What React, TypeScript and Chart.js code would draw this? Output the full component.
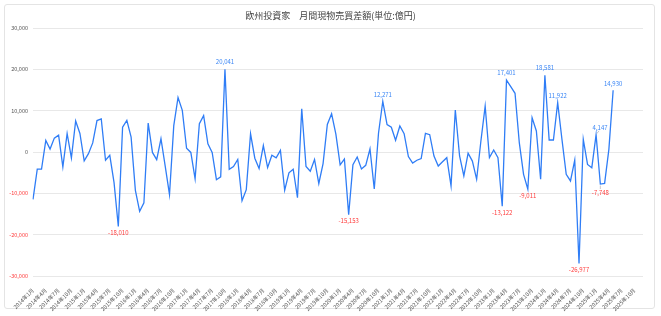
import React, { useEffect, useRef } from 'react';
import { Chart, registerables } from 'chart.js';

Chart.register(...registerables);

const TITLE = '欧州投資家　月間現物売買差額(単位:億円)';
const FONT = '"Noto Sans CJK JP", "Noto Sans", sans-serif';

const YEARS = [2014, 2015, 2016, 2017, 2018, 2019, 2020, 2021, 2022, 2023, 2024, 2025];
const MONTHS = [1, 2, 3, 4, 5, 6, 7, 8, 9, 10, 11, 12];
const CATEGORIES: string[] = [];
YEARS.forEach((y) => MONTHS.forEach((m) => CATEGORIES.push(`${y}年${m}月`)));

// monthly net purchase (億円), 2014年1月 onward
const NET_2014_2016 = [
  -11440, -4160, -4160, 2800, 720, 3360, 4080, -3600, 4480, -1440, 7520, 4480,
  -2160, -400, 2200, 7600, 8000, -2000, -800, -7400, -18010, 6000, 7660, 3600,
  -9270, -14350, -12300, 7000, -100, -1850, 3200, -3500, -10300, 6370, 13200, 10080,
];
const NET_2017_2019 = [
  900, -100, -6500, 6850, 8800, 2000, -100, -6700, -6000, 20041, -4200, -3500,
  -1800, -11800, -9100, 4400, -1500, -4000, 1550, -3750, -800, -1400, 400, -9250,
  -5050, -4150, -11050, 10450, -3500, -4650, -1800, -7620, -2800, 6650, 9250, 4300,
];
const NET_2020_2022 = [
  -3100, -1700, -15153, -3060, -1200, -4110, -3230, 730, -8950, 4600, 12271, 6650,
  6000, 2850, 6300, 4450, -1100, -2700, -2000, -1600, 4500, 4200, -970, -3390,
  -2340, -1370, -8200, 10160, -970, -5800, -300, -2200, -6600, 2660, 11100, -1370,
];
const NET_2023_2025 = [
  480, -1370, -13122, 17401, 15800, 14200, 2260, -5400, -9011, 8300, 5080, -6600,
  18581, 2900, 2900, 11922, 3060, -5400, -7000, -1940, -26977, 3060, -3000, -3800,
  4147, -7748, -7600, 650, 14930,
];
const NET_VALUES: (number | null)[] = [
  ...NET_2014_2016, ...NET_2017_2019, ...NET_2020_2022, ...NET_2023_2025,
];
while (NET_VALUES.length < CATEGORIES.length) NET_VALUES.push(null);

const LABELED_MONTHS = [
  '2015年9月', '2017年10月', '2020年3月', '2020年11月', '2023年3月', '2023年4月',
  '2023年9月', '2024年1月', '2024年4月', '2024年9月', '2025年1月', '2025年2月', '2025年5月',
];

const LINE_COLOR = '#2f7df6';
const POS_COLOR = '#3a86f5';
const NEG_COLOR = '#ff3b3b';
const AXIS_TEXT = '#555555';

const fmt = (v: number) => v.toLocaleString('en-US');

const labelPlugin = {
  id: 'pointLabels',
  afterDatasetsDraw(chart: any) {
    const meta = chart.getDatasetMeta(0);
    const ctx = chart.ctx;
    ctx.save();
    ctx.font = `6px ${FONT}`;
    ctx.textAlign = 'center';
    LABELED_MONTHS.forEach((name) => {
      const i = CATEGORIES.indexOf(name);
      const v = NET_VALUES[i];
      const el = meta.data[i];
      if (v == null || !el) return;
      const x = el.x;
      const y = el.y;
      const text = fmt(v);
      if (name === '2025年1月') {
        ctx.strokeStyle = '#bbbbbb';
        ctx.lineWidth = 0.8;
        ctx.beginPath();
        ctx.moveTo(x + 0.5, y - 1);
        ctx.lineTo(x + 3, y - 4);
        ctx.stroke();
        ctx.fillStyle = POS_COLOR;
        ctx.textBaseline = 'bottom';
        ctx.fillText(text, x + 4, y - 4);
        return;
      }
      if (name === '2025年2月') {
        ctx.strokeStyle = '#bbbbbb';
        ctx.lineWidth = 0.8;
        ctx.beginPath();
        ctx.moveTo(x, y + 1.5);
        ctx.lineTo(x, y + 5);
        ctx.stroke();
        ctx.fillStyle = NEG_COLOR;
        ctx.textBaseline = 'top';
        ctx.fillText(text, x, y + 5.5);
        return;
      }
      if (v >= 0) {
        ctx.fillStyle = POS_COLOR;
        ctx.textBaseline = 'bottom';
        ctx.fillText(text, x, y - 4);
      } else {
        ctx.fillStyle = NEG_COLOR;
        ctx.textBaseline = 'top';
        ctx.fillText(text, x, y + 3);
      }
    });
    ctx.restore();
  },
  afterDraw(chart: any) {
    const ctx = chart.ctx;
    ctx.save();
    ctx.font = `9px ${FONT}`;
    ctx.fillStyle = '#444444';
    ctx.textAlign = 'center';
    ctx.textBaseline = 'middle';
    ctx.fillText(TITLE, 330.5, 16);
    ctx.restore();
  },
};

export default function App() {
  const ref = useRef<HTMLCanvasElement | null>(null);

  useEffect(() => {
    if (!ref.current) return;
    const chart = new Chart(ref.current, {
      type: 'line',
      data: {
        labels: CATEGORIES,
        datasets: [
          {
            data: NET_VALUES,
            borderColor: LINE_COLOR,
            borderWidth: 1.3,
            pointRadius: 0,
            pointHoverRadius: 0,
            tension: 0,
            fill: false,
            spanGaps: false,
          },
        ],
      },
      options: {
        responsive: false,
        animation: false,
        events: [],
        layout: { padding: { top: 28, right: 18, bottom: 0, left: 0 } },
        plugins: {
          legend: { display: false },
          title: { display: false },
          tooltip: { enabled: false },
        },
        scales: {
          x: {
            type: 'category',
            grid: { display: false },
            border: { display: false },
            ticks: {
              autoSkip: false,
              maxRotation: 45,
              minRotation: 45,
              padding: 3,
              color: AXIS_TEXT,
              font: { size: 5.5, family: FONT },
              callback: (_v: any, i: number) => (i % 3 === 0 ? CATEGORIES[i] : null),
            },
            afterFit: (s: any) => {
              s.height = 40;
              s.paddingLeft = 0;
              s.paddingRight = 0;
            },
          },
          y: {
            min: -30000,
            max: 30000,
            grid: { color: '#e8e8e8', drawTicks: false, lineWidth: 1 },
            border: { display: false },
            ticks: {
              stepSize: 10000,
              padding: 5,
              font: { size: 5.5, family: FONT },
              color: (c: any) => (c.tick && c.tick.value < 0 ? NEG_COLOR : AXIS_TEXT),
              callback: (v: any) => fmt(Number(v)),
            },
            afterFit: (s: any) => {
              s.width = 33;
              s.paddingTop = 0;
              s.paddingBottom = 0;
            },
          },
        },
      },
      plugins: [labelPlugin],
    } as any);
    return () => chart.destroy();
  }, []);

  return (
    <div
      style={{
        position: 'fixed',
        left: 0,
        top: 0,
        width: 661,
        height: 316,
        background: '#ffffff',
      }}
    >
      <div
        style={{
          position: 'absolute',
          left: 4,
          top: 4,
          width: 651,
          height: 305,
          border: '1px solid #e4e4e4',
          borderRadius: 3,
          boxSizing: 'border-box',
        }}
      />
      <canvas
        ref={ref}
        width={661}
        height={316}
        style={{ position: 'absolute', left: 0, top: 0, width: 661, height: 316 }}
      />
    </div>
  );
}
